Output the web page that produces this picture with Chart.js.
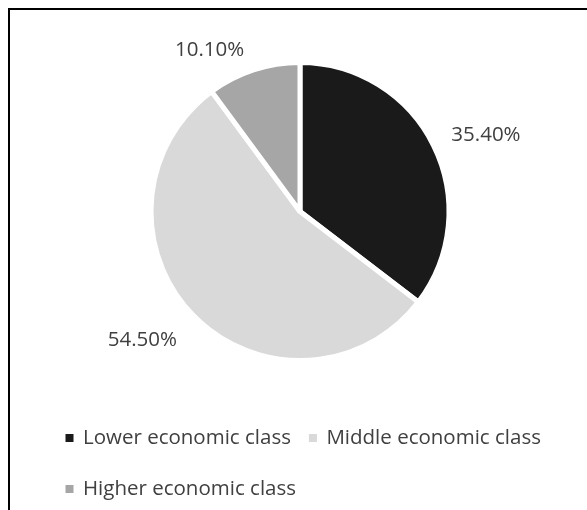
<!DOCTYPE html>
<html>
<head>
<meta charset="utf-8">
<script src="https://cdn.jsdelivr.net/npm/chart.js@4.4.1/dist/chart.umd.min.js"></script>
<style>
    html, body { margin: 0; padding: 0; background: #fff; overflow: hidden; }
    #frame { position: absolute; left: 8px; top: 8px; width: 600px; height: 520px; border: 2px solid #000; }
    #wrap { position: absolute; left: 0; top: 0; width: 587px; height: 510px; }
</style>
</head>
<body>
<div id="frame"></div>
<div id="wrap"><canvas id="class-chart"></canvas></div>
<script>
// Share of respondents per economic class (percent)
var classLabels = ["Lower economic class", "Middle economic class", "Higher economic class"];
var classShares = [35.4, 54.5, 10.1];

var textFont = "20.5px 'Open Sans'";
var textColor = "#404040";

// percentage labels outside each slice
var sliceLabels = {
    id: "sliceLabels",
    afterDatasetsDraw: function (chart, args, opts) {
        var ctx = chart.ctx;
        var meta = chart.getDatasetMeta(0);
        ctx.save();
        ctx.font = textFont;
        ctx.fillStyle = textColor;
        ctx.textAlign = "center";
        ctx.textBaseline = "middle";
        meta.data.forEach(function (arc, i) {
            var p = arc.getProps(["x", "y", "startAngle", "endAngle", "outerRadius"], true);
            var mid = (p.startAngle + p.endAngle) / 2;
            var dx = Math.cos(mid);
            var dy = Math.sin(mid);
            var text = classShares[i].toFixed(2) + "%";
            var w = ctx.measureText(text).width;
            var r = p.outerRadius + opts.distance;
            var nudge = opts.nudge[i] || [0, 0];
            ctx.fillText(text,
                p.x + dx * (r + w / 2) + nudge[0],
                p.y + dy * (r + 7) + nudge[1]);
        });
        ctx.restore();
    },
};

// legend with squares, wrapped into rows like the original
var squareLegend = {
    id: "squareLegend",
    afterDraw: function (chart, args, opts) {
        var ctx = chart.ctx;
        var colors = chart.data.datasets[0].backgroundColor;
        ctx.save();
        ctx.font = textFont;
        ctx.textAlign = "left";
        ctx.textBaseline = "middle";
        var x = opts.left;
        var y = opts.top;
        chart.data.labels.forEach(function (label, i) {
            var itemWidth = opts.boxSize + opts.textGap + ctx.measureText(label).width;
            if (i > 0 && x + itemWidth > opts.right) {
                x = opts.left;
                y += opts.lineHeight;
            }
            ctx.fillStyle = colors[i];
            ctx.fillRect(x, y - opts.boxSize / 2, opts.boxSize, opts.boxSize);
            ctx.fillStyle = textColor;
            ctx.fillText(label, x + opts.boxSize + opts.textGap, y);
            x += itemWidth + opts.itemGap;
        });
        ctx.restore();
    },
};

var classChart = new Chart(document.getElementById("class-chart").getContext("2d"), {
    type: "pie",
    data: {
        labels: classLabels,
        datasets: [
            {
                data: classShares,
                backgroundColor: ["#1a1a1a", "#d9d9d9", "#a6a6a6"],
                borderColor: "#ffffff",
                borderWidth: 5,
            },
        ],
    },
    plugins: [sliceLabels, squareLegend],
    options: {
        responsive: true,
        maintainAspectRatio: false,
        animation: false,
        layout: {
            padding: { top: 60, bottom: 147, left: 100, right: 87 },
        },
        plugins: {
            legend: { display: false },
            tooltip: { enabled: false },
            sliceLabels: {
                distance: 26,
                nudge: [[-2, 4], [-8, 1], [-25, 12]],
            },
            squareLegend: {
                left: 65.5,
                top: 438,
                right: 580,
                lineHeight: 51,
                boxSize: 8,
                textGap: 9.5,
                itemGap: 18,
            },
        },
    },
});
</script>
</body>
</html>
